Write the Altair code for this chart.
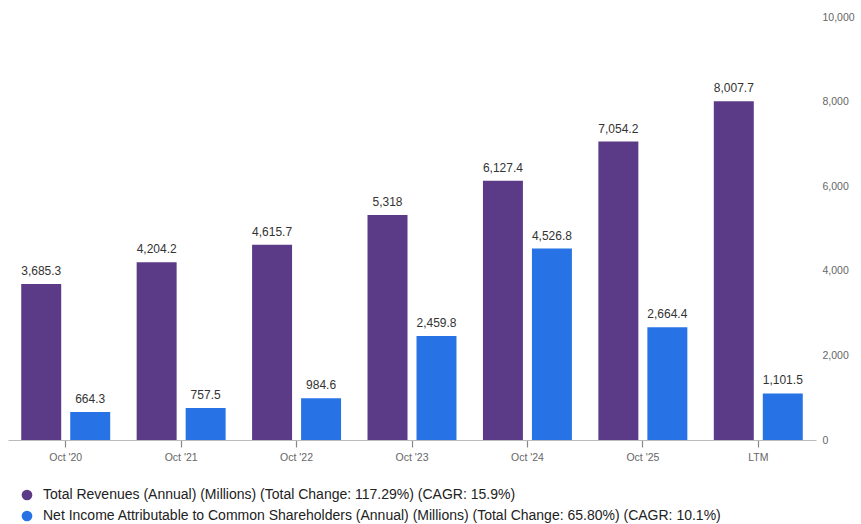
import altair as alt
import pandas as pd

periods = ["Oct '20", "Oct '21", "Oct '22", "Oct '23", "Oct '24", "Oct '25", "LTM"]
revenues = [3685.3, 4204.2, 4615.7, 5318.0, 6127.4, 7054.2, 8007.7]
net_income = [664.3, 757.5, 984.6, 2459.8, 4526.8, 2664.4, 1101.5]
series_names = [
    "Total Revenues (Annual) (Millions) (Total Change: 117.29%) (CAGR: 15.9%)",
    "Net Income Attributable to Common Shareholders (Annual) (Millions) (Total Change: 65.80%) (CAGR: 10.1%)",
]
series_colors = ["#5b3a87", "#2773e6"]
y_ticks = [0, 2000, 4000, 6000, 8000, 10000]

rows = []
for p, r, n in zip(periods, revenues, net_income):
    rows.append({"period": p, "series": series_names[0], "value": r})
    rows.append({"period": p, "series": series_names[1], "value": n})
df = pd.DataFrame(rows)
df["label"] = df["value"].map(lambda v: f"{v:,.1f}".removesuffix(".0"))

base = alt.Chart(df).encode(
    x=alt.X(
        "period:N",
        sort=periods,
        scale=alt.Scale(paddingInner=0, paddingOuter=0),
        axis=alt.Axis(
            title=None, labelAngle=0, labelColor="#666", labelFontSize=10.5,
            tickColor="#888", tickSize=7, tickWidth=1.2, domainColor="#bbb",
            domainWidth=1.2, labelPadding=5,
        ),
    ),
    xOffset=alt.XOffset(
        "series:N", sort=series_names,
        scale=alt.Scale(paddingInner=0.184, paddingOuter=0.27),
    ),
    y=alt.Y(
        "value:Q",
        scale=alt.Scale(domain=[0, 10000], nice=False),
        axis=alt.Axis(
            orient="right", values=y_ticks, grid=False, domain=False, ticks=False,
            title=None, labelColor="#666", labelFontSize=10.5, labelPadding=6,
            format=",.0f",
        ),
    ),
)

bars = base.mark_bar(xOffset=1).encode(
    color=alt.Color(
        "series:N",
        scale=alt.Scale(domain=series_names, range=series_colors),
        legend=alt.Legend(
            orient="none", legendX=12, legendY=471, direction="vertical",
            title=None, symbolType="circle", symbolSize=115, labelFontSize=14,
            labelColor="#222", rowPadding=7, labelLimit=0, symbolStrokeWidth=0,
            symbolOpacity=1, labelOffset=9,
        ),
    )
)

labels = base.mark_text(
    baseline="bottom", dy=-6, xOffset=1, fontSize=12, color="#333"
).encode(text="label:N")

chart = (
    alt.layer(bars, labels)
    .properties(
        width=808, height=423, autosize="none",
        padding={"left": 8, "top": 17, "right": 45, "bottom": 84},
    )
    .configure(font="Liberation Sans")
    .configure_view(strokeWidth=0)
)

chart.save("out.html", embed_options={"renderer": "svg", "actions": False})
